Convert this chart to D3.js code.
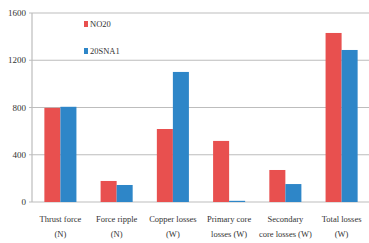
<!DOCTYPE html>
<html>
<head>
<meta charset="utf-8">
<script src="https://cdn.jsdelivr.net/npm/d3@7"></script>
<style>
  body { margin: 0; background: #fff; }
  svg text { font-family: "Liberation Serif", "DejaVu Serif", serif; fill: #333; }
</style>
</head>
<body>
<div id="chart"></div>
<script>
// categories, two lines each
const categories = ["Thrust force", "Force ripple", "Copper losses", "Primary core", "Secondary", "Total losses"];
const categoryUnits = ["(N)", "(N)", "(W)", "losses (W)", "core losses (W)", "(W)"];
const seriesNames = ["NO20", "20SNA1"];
const no20 = [797, 178, 618, 517, 271, 1431];
const sna1 = [806, 144, 1101, 10, 152, 1287];
const yTicks = [0, 400, 800, 1200, 1600];

const w = 369, h = 243;
const margin = { top: 13, right: 0, bottom: 41, left: 32 };

const svg = d3.select("#chart").append("svg")
    .attr("width", w)
    .attr("height", h);

// SCALES
const x = d3.scaleBand()
    .domain(categories)
    .range([margin.left, w + 1])
    .paddingInner(0.43)
    .paddingOuter(0.22);

const xs = d3.scaleBand()
    .domain(seriesNames)
    .range([0, x.bandwidth()]);

const y = d3.scaleLinear()
    .domain([0, 1600])
    .range([h - margin.bottom, margin.top]);

const color = d3.scaleOrdinal().domain(seriesNames).range(["#e8504f", "#2e86c8"]);

// GRID
svg.append("g")
    .selectAll("line")
    .data(yTicks)
    .join("line")
    .attr("x1", margin.left - 3)
    .attr("x2", w)
    .attr("y1", d => y(d))
    .attr("y2", d => y(d))
    .style("stroke", "#bdbdbd")
    .style("stroke-width", 1.2);

// y axis line
svg.append("line")
    .attr("x1", margin.left).attr("x2", margin.left)
    .attr("y1", y(1600)).attr("y2", y(0))
    .style("stroke", "#bdbdbd")
    .style("stroke-width", 1.2);

svg.append("g")
    .selectAll("text")
    .data(yTicks)
    .join("text")
    .attr("x", margin.left - 6)
    .attr("y", d => y(d))
    .attr("dy", "0.35em")
    .style("text-anchor", "end")
    .style("font-size", "9px")
    .text(d => d);

// BARS
const rows = categories.map((c, i) => ({ cat: c, vals: [no20[i], sna1[i]] }));

const groups = svg.append("g")
    .selectAll("g")
    .data(rows)
    .join("g")
    .attr("transform", d => "translate(" + x(d.cat) + ",0)");

groups.selectAll("rect")
    .data(d => d.vals.map((v, j) => ({ name: seriesNames[j], value: v })))
    .join("rect")
    .attr("x", d => xs(d.name))
    .attr("width", xs.bandwidth())
    .attr("y", d => y(d.value))
    .attr("height", d => y(0) - y(d.value))
    .style("fill", d => color(d.name));

// X LABELS
const labels = svg.append("g")
    .selectAll("text")
    .data(categories)
    .join("text")
    .attr("x", d => x(d) + x.bandwidth() / 2)
    .attr("y", 222)
    .style("text-anchor", "middle")
    .style("font-size", "8.5px");

labels.append("tspan").text(d => d);
labels.append("tspan")
    .attr("x", d => x(d) + x.bandwidth() / 2)
    .attr("dy", 15)
    .text((d, i) => categoryUnits[i]);

// LEGEND
const legend = svg.append("g")
    .selectAll("g")
    .data(seriesNames)
    .join("g")
    .attr("transform", (d, i) => "translate(84," + (24 + i * 27) + ")");

legend.append("rect")
    .attr("x", 0).attr("y", -3)
    .attr("width", 4).attr("height", 6)
    .style("fill", d => color(d));

legend.append("text")
    .attr("x", 6)
    .attr("dy", "0.35em")
    .style("font-size", "8.5px")
    .text(d => d);
</script>
</body>
</html>
